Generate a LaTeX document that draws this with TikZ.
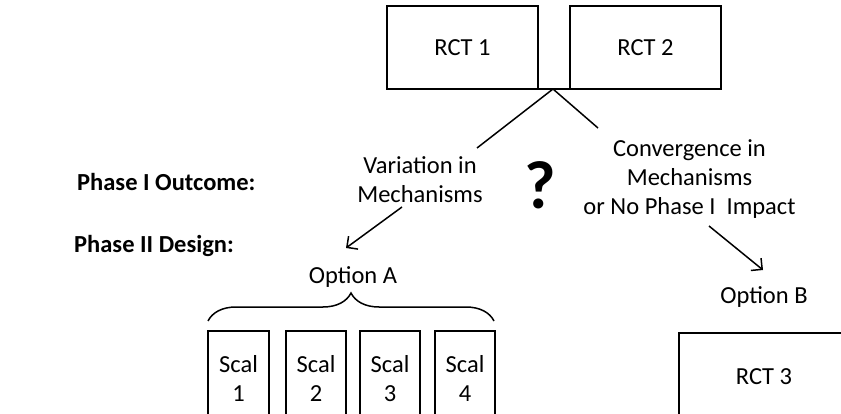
\documentclass[tikz,border=0pt]{standalone}
\usepackage{fontspec}
\setmainfont{Carlito}
\usetikzlibrary{arrows.meta,decorations.pathreplacing}
\begin{document}
\begin{tikzpicture}[x=1pt,y=-1pt,
  every node/.style={font=\fontsize{24.5}{29}\selectfont, inner sep=0pt, align=center},
  box/.style={draw, line width=1.3pt},
  lbl/.style={font=\fontsize{24.5}{29}\selectfont\bfseries, anchor=west},
  arr/.style={line width=1.5pt, -{Straight Barb[length=8pt,width=16pt,line width=1.5pt]}},
  link/.style={line width=1.5pt}]
\clip (0,0) rectangle (841,414);
% top boxes
\node[box, minimum width=151pt, minimum height=83pt] (rct1) at (462.5,47.5) {RCT 1};
\node[box, minimum width=151pt, minimum height=83pt] (rct2) at (645.5,47.5) {RCT 2};
\coordinate (bl) at (420,89);
\coordinate (br) at (693,89);
\draw[line width=2.2pt] (bl) -- (br);
\coordinate (J) at (553,89);
\coordinate (jl) at (477,148);
\coordinate (jr) at (598,128);
\draw[link] (J) -- (jl);
\draw[link] (J) -- (jr);
% outcomes
\node (var) at (420,180) {Variation in\\Mechanisms};
\node[font=\fontsize{68}{72}\selectfont\bfseries] (q) at (540,185) {?};
\node (conv) at (689.5,179) {Convergence in\\Mechanisms\\or No Phase I~~Impact};
\node[lbl] (p1) at (77,182) {Phase I Outcome:};
\node[lbl] (p2) at (74,246) {Phase II Design:};
% arrows
\coordinate (a1s) at (402,207);
\coordinate (a1e) at (346,248);
\draw[arr] (a1s) -- (a1e);
\coordinate (a2s) at (709,226);
\coordinate (a2e) at (763,270);
\draw[arr] (a2s) -- (a2e);
% options
\node (optA) at (353,277) {Option A};
\node (optB) at (764,297) {Option B};
\coordinate (brl) at (208,321);
\coordinate (brr) at (494,321);
\draw[line width=1.5pt, decorate, decoration={brace, amplitude=28pt}] (brl) -- (brr);
% scal boxes
\node[box, minimum width=61pt, minimum height=100pt] (s1) at (238.5,381) {Scal\strut\\1\strut};
\node[box, minimum width=60pt, minimum height=100pt] (s2) at (316,381) {Scal\strut\\2\strut};
\node[box, minimum width=60pt, minimum height=100pt] (s3) at (390,381) {Scal\strut\\3\strut};
\node[box, minimum width=60pt, minimum height=100pt] (s4) at (465,381) {Scal\strut\\4\strut};
% RCT 3
\node[box, minimum width=170pt, minimum height=88pt] (rct3) at (764,377) {RCT 3};
\end{tikzpicture}
\end{document}
